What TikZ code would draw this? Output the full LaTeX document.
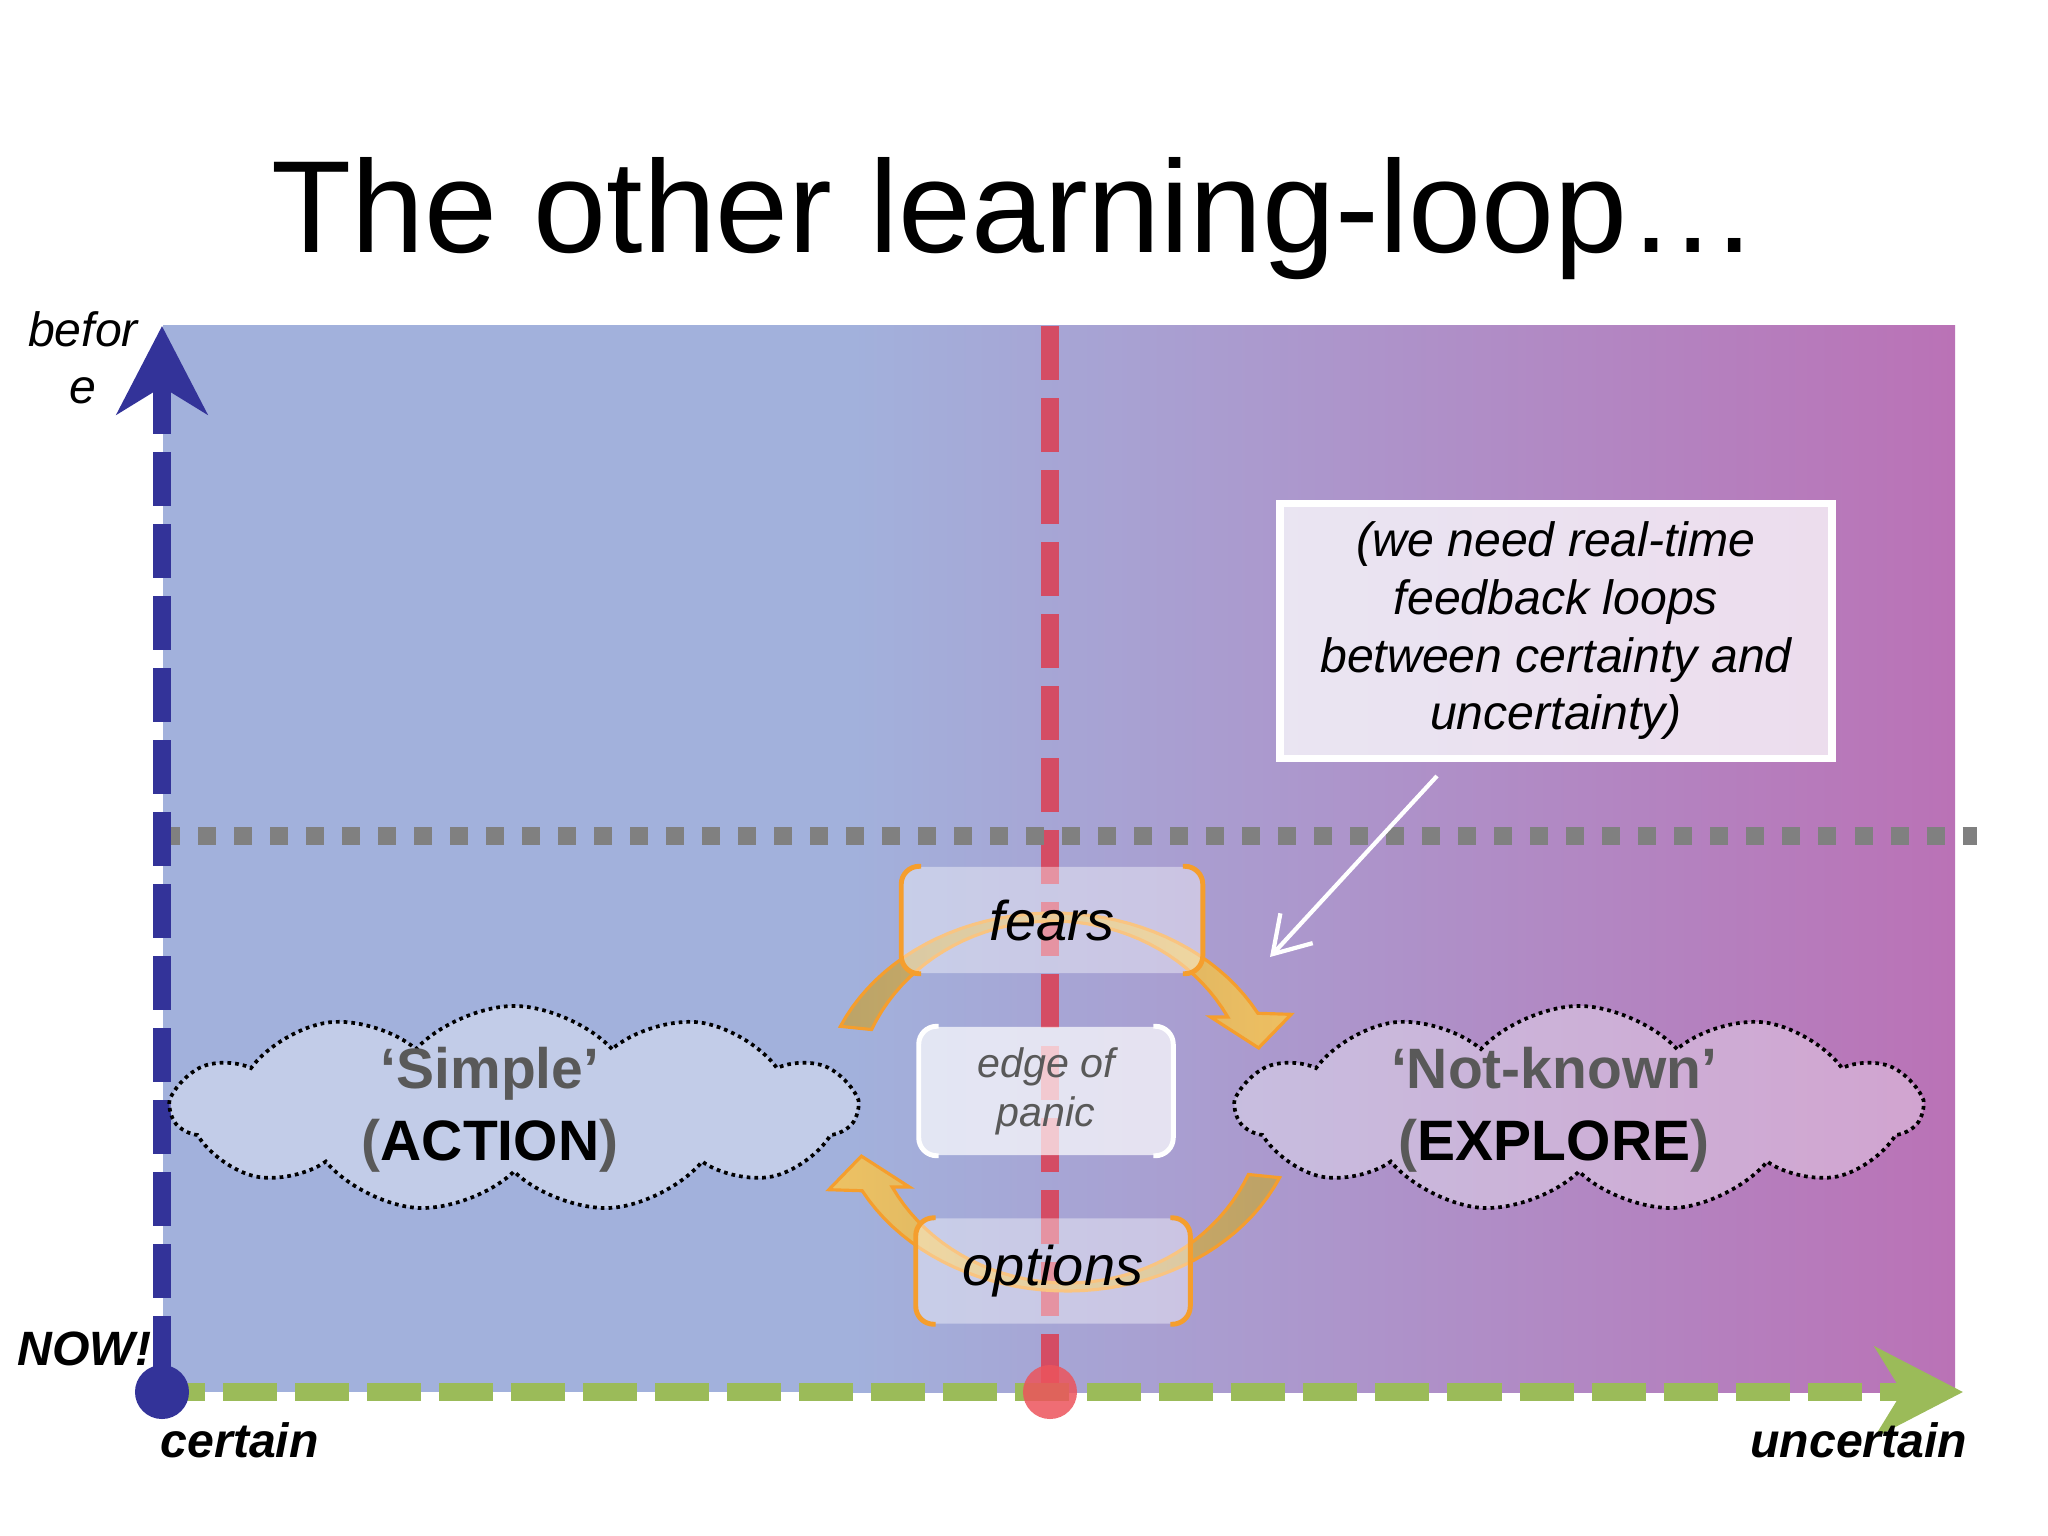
\documentclass[tikz,border=0pt]{standalone}
\usepackage{fontspec}
\setmainfont{Liberation Sans}
\usetikzlibrary{arrows.meta,shapes.symbols}
\definecolor{bgblue}{RGB}{162,177,220}
\definecolor{bgpurple}{RGB}{186,114,182}
\definecolor{axisblue}{RGB}{51,51,153}
\definecolor{axisgreen}{RGB}{155,187,89}
\definecolor{axisred}{RGB}{212,76,100}
\definecolor{dotred}{RGB}{236,84,92}
\definecolor{loopor}{RGB}{245,158,45}
\definecolor{loopdark}{RGB}{190,162,92}
\definecolor{looplight}{RGB}{246,196,86}
\definecolor{txtgray}{RGB}{89,89,89}

\begin{document}
\begin{tikzpicture}[x=0.01cm, y=-0.01cm,
    title/.style={font=\fontsize{37.3}{44}\selectfont, anchor=base, inner sep=0pt},
    axislabel/.style={font=\fontsize{13.7}{16.2}\selectfont\bfseries\itshape, inner sep=0pt},
    axisline/.style={line width=5.12pt, dash pattern=on 15.36pt off 5.12pt},
    bigtip/.style={-{Stealth[length=25pt, width=25.6pt, inset=7.7pt]}},
    axisdot/.style={circle, minimum size=0.54cm, inner sep=0pt},
    cloudbox/.style={cloud, cloud puffs=11, cloud puff arc=95, cloud ignores aspect,
                     minimum width=6.83cm, minimum height=2.06cm, inner sep=0pt,
                     draw=black, line width=1.05pt, dash pattern=on 1.05pt off 1.15pt,
                     fill=white, fill opacity=0.35},
    cloudtext/.style={align=center, text=txtgray,
                      font=\fontsize{16.2}{20.5}\selectfont\bfseries},
    loopbox/.style={rounded corners=0.2cm, fill=white, fill opacity=0.4, text opacity=1,
                    inner sep=0pt, font=\fontsize{15.9}{19}\selectfont\itshape},
    bracket/.style={line width=1.4pt, rounded corners=0.18cm},
    notebox/.style={draw=white, line width=2.2pt, fill=white, fill opacity=0.75,
                    text opacity=1, minimum width=5.51cm, minimum height=2.55cm,
                    align=center, font=\fontsize{13.7}{16.4}\selectfont\itshape},
    pointer/.style={draw=white, line width=1.2pt,
                    -{Straight Barb[length=10pt, width=12.5pt]}},
    looparrow/.style={draw=loopor, line width=0.9pt, fill opacity=0.9}
  ]

  \useasboundingbox (0,0) rectangle (2048,1536);

  % background
  \fill[bgblue] (163,325) rectangle (851,1392);
  \shade[left color=bgblue, right color=bgpurple] (850,325) rectangle (1955,1392);

  \node[title] (title) at (1015,252) {The other learning-loop…};

  \coordinate (origin) at (162,1392);
  \coordinate (ytip) at (162,326);
  \coordinate (xtip) at (1963,1392);
  \coordinate (redtop) at (1050,326);
  \coordinate (redbase) at (1050,1392);

  % axes
  \draw[axisline, draw=axisred] (redtop) -- (redbase);
  \draw[line width=5.12pt, dash pattern=on 5.12pt off 5.12pt, gray] (162,836) -- (1977,836);
  \draw[axisline, draw=axisblue, dash phase=14.2pt, bigtip] (origin) -- (ytip);
  \draw[axisline, draw=axisgreen, dash phase=3.1pt, bigtip] (origin) -- (xtip);

  % clouds
  \node[cloudbox] (simple) at (514,1109) {};
  \node[cloudtext] (simpletext) at (490,1110) {‘Simple’\\(\textcolor{black}{ACTION})};
  \node[cloudbox] (notknown) at (1579,1109) {};
  \node[cloudtext] (notknowntext) at (1554,1110) {‘Not-known’\\(\textcolor{black}{EXPLORE})};

  % note
  \node[notebox] (note) at (1556,631)
    {(we need real-time\\feedback loops\\between certainty and\\uncertainty)};
  \coordinate (ptrstart) at (1437,776);
  \coordinate (ptrend) at (1270,957);
  \draw[pointer] (ptrstart) -- (ptrend);

  % the loop
  \foreach \cx/\rot/\lc/\rc in {1053/0/loopdark/looplight, 1067/180/looplight/loopdark}
    \shade[looparrow, left color=\lc, right color=\rc]
      plot[domain=203.6:332, samples=40] ({\cx+232*cos(\x+\rot)}, {1102+189*sin(\x+\rot)})
      -- ({\cx+265*cos(334+\rot)}, {1102+200*sin(334+\rot)})
      -- ({\cx+215*cos(343+\rot)}, {1102+185*sin(343+\rot)})
      -- ({\cx+182*cos(330+\rot)}, {1102+170*sin(330+\rot)})
      -- plot[domain=332:203.6, samples=40] ({\cx+198*cos(\x+\rot)}, {1102+181*sin(\x+\rot)})
      -- cycle;

  \node[loopbox, minimum width=3.0cm, minimum height=1.06cm] (fears) at (1052,920) {fears};
  \node[loopbox, fill opacity=0.7, text=txtgray, align=center,
        minimum width=2.53cm, minimum height=1.28cm,
        font=\fontsize{11.7}{13.9}\selectfont\itshape] (panic) at (1046,1091) {edge of\\panic};
  \node[loopbox, minimum width=2.73cm, minimum height=1.05cm] (options) at (1053,1271) {options};

  \foreach \b/\col in {fears/loopor, panic/white, options/loopor} {
    \draw[bracket, \col] ([xshift=0.2cm]\b.north west) -- (\b.north west)
      -- (\b.south west) -- ([xshift=0.2cm]\b.south west);
    \draw[bracket, \col] ([xshift=-0.2cm]\b.north east) -- (\b.north east)
      -- (\b.south east) -- ([xshift=-0.2cm]\b.south east);
  }

  % labels
  \node[font=\fontsize{13.7}{16.2}\selectfont\itshape, align=center, inner sep=0pt]
    (before) at (83,358) {befor\\e};
  \node[axislabel, anchor=base east] (now) at (152,1365) {NOW!};
  \node[axislabel, anchor=base west] (certain) at (160,1457) {certain};
  \node[axislabel, anchor=base east] (uncertain) at (1968,1457) {uncertain};

  \node[axisdot, fill=axisblue] (nowdot) at (origin) {};
  \node[axisdot, fill=dotred, fill opacity=0.85] (reddot) at (redbase) {};
\end{tikzpicture}
\end{document}
